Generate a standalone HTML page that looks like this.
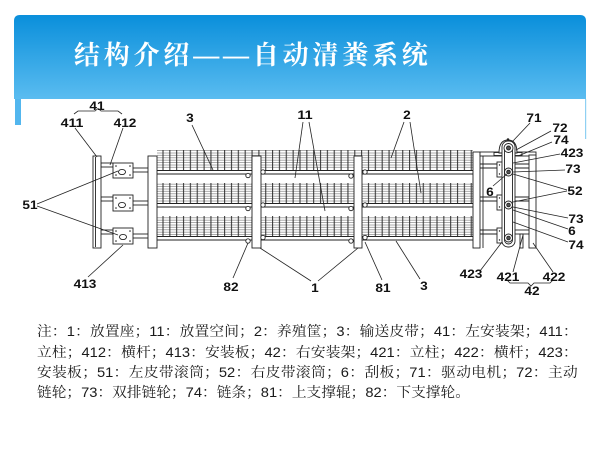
<!DOCTYPE html>
<html lang="zh-CN">
<head>
<meta charset="utf-8">
<style>
html,body{margin:0;padding:0;background:#fff;}
body{width:600px;height:450px;position:relative;overflow:hidden;}
svg{position:absolute;left:0;top:0;}
.title{position:absolute;left:74px;top:38px;font-family:"Liberation Serif","Noto Serif CJK SC",serif;font-weight:bold;font-size:26px;letter-spacing:3.8px;color:#fff;white-space:nowrap;line-height:36px;}
.ln{position:absolute;left:37px;width:515px;height:20px;line-height:20px;font-family:"Liberation Sans","Noto Serif CJK SC",serif;font-size:14px;color:#1a1a1a;transform:scaleX(1.05);transform-origin:0 0;text-align:justify;text-align-last:justify;}
.ln.last{text-align:left;text-align-last:left;}
</style>
</head>
<body>
<svg width="600" height="450" viewBox="0 0 600 450">
<defs>
<linearGradient id="hg" x1="0" y1="0" x2="0" y2="1">
<stop offset="0" stop-color="#0a8fdb"/>
<stop offset="1" stop-color="#5abcf0"/>
</linearGradient>
<pattern id="ph" patternUnits="userSpaceOnUse" x="0" y="150" width="10" height="2.4">
<line x1="0" y1="0.6" x2="10" y2="0.6" stroke="#8a8a8a" stroke-width="0.7"/>
</pattern>
<pattern id="pv" patternUnits="userSpaceOnUse" x="162.4" y="0" width="6.85" height="40">
<line x1="0.6" y1="0" x2="0.6" y2="40" stroke="#2a2a2a" stroke-width="1"/>
</pattern>
</defs>

<!-- header -->
<path d="M14 21 Q14 15 20 15 L580 15 Q586 15 586 21 L586 99 L14 99 Z" fill="url(#hg)"/>
<rect x="15" y="99" width="6" height="26" fill="#52b6ee"/>
<rect x="585" y="99" width="1.2" height="40" fill="#8fd0f3"/>

<!-- grid tiers -->
<g>
<rect x="157" y="150" width="316" height="19" fill="url(#ph)"/>
<rect x="157" y="150" width="316" height="20" fill="url(#pv)"/>
<rect x="157" y="183" width="316" height="19" fill="url(#ph)"/>
<rect x="157" y="183" width="316" height="20" fill="url(#pv)"/>
<rect x="157" y="216" width="316" height="19" fill="url(#ph)"/>
<rect x="157" y="216" width="316" height="20" fill="url(#pv)"/>
</g>
<g stroke="#222" stroke-width="1">
<line x1="157" y1="170.5" x2="473" y2="170.5"/>
<line x1="157" y1="174" x2="473" y2="174"/>
<line x1="157" y1="203.5" x2="473" y2="203.5"/>
<line x1="157" y1="207" x2="473" y2="207"/>
<line x1="157" y1="236.5" x2="473" y2="236.5"/>
<line x1="157" y1="240" x2="473" y2="240"/>
</g>

<!-- left assembly -->
<g stroke="#222" stroke-width="0.9" fill="#fff">
<rect x="101" y="163" width="12" height="4"/>
<rect x="101" y="197" width="12" height="4"/>
<rect x="101" y="230" width="12" height="4"/>
<line x1="133" y1="168" x2="148" y2="168"/>
<line x1="133" y1="172" x2="148" y2="172"/>
<line x1="133" y1="201" x2="148" y2="201"/>
<line x1="133" y1="205" x2="148" y2="205"/>
<line x1="133" y1="234" x2="148" y2="234"/>
<line x1="133" y1="238" x2="148" y2="238"/>
<rect x="93" y="156" width="8" height="92"/>
<line x1="95.5" y1="157" x2="95.5" y2="247"/>
<rect x="113" y="163" width="20" height="15"/>
<rect x="113" y="195" width="20" height="16"/>
<rect x="113" y="228" width="20" height="16"/>
<ellipse cx="122" cy="172" rx="3.5" ry="2.6"/>
<ellipse cx="122" cy="205" rx="3.5" ry="2.6"/>
<ellipse cx="123" cy="237" rx="3.5" ry="2.6"/>
<rect x="148" y="156" width="9" height="92"/>
<rect x="252" y="156" width="9" height="92"/>
<rect x="354" y="156" width="8" height="92"/>
<rect x="473" y="152" width="7" height="96"/>
</g>
<g fill="#222">
<circle cx="116" cy="166" r="0.8"/><circle cx="130" cy="166" r="0.8"/><circle cx="116" cy="175" r="0.8"/><circle cx="130" cy="175" r="0.8"/>
<circle cx="116" cy="198" r="0.8"/><circle cx="130" cy="198" r="0.8"/><circle cx="116" cy="208" r="0.8"/><circle cx="130" cy="208" r="0.8"/>
<circle cx="116" cy="231" r="0.8"/><circle cx="130" cy="231" r="0.8"/><circle cx="116" cy="241" r="0.8"/><circle cx="130" cy="241" r="0.8"/>
</g>

<!-- rollers -->
<g stroke="#222" stroke-width="0.9" fill="#fff">
<circle cx="248" cy="175.5" r="2.2"/><circle cx="263" cy="172" r="2.2"/>
<circle cx="248" cy="208.5" r="2.2"/><circle cx="263" cy="205" r="2.2"/>
<circle cx="248" cy="241" r="2.2"/><circle cx="263" cy="237.5" r="2.2"/>
<circle cx="351" cy="176" r="2.2"/><circle cx="365" cy="172" r="2.2"/>
<circle cx="351" cy="208.5" r="2.2"/><circle cx="365" cy="205" r="2.2"/>
<circle cx="351" cy="241" r="2.2"/><circle cx="365" cy="237.5" r="2.2"/>
</g>

<!-- right assembly -->
<g stroke="#222" stroke-width="0.9" fill="#fff">
<line x1="483" y1="156" x2="483" y2="248"/>
<line x1="480" y1="164" x2="529" y2="164"/>
<line x1="480" y1="168" x2="529" y2="168"/>
<line x1="480" y1="197" x2="529" y2="197"/>
<line x1="480" y1="201" x2="529" y2="201"/>
<line x1="480" y1="230" x2="513" y2="230"/>
<line x1="480" y1="234" x2="513" y2="234"/>
<rect x="480" y="152" width="56" height="4"/>
<rect x="529" y="155" width="7" height="93"/>
<rect x="513" y="230" width="16" height="4"/>
<rect x="520" y="234" width="3" height="14"/>
<rect x="497" y="162" width="16" height="15"/>
<rect x="497" y="195" width="16" height="15"/>
<rect x="497" y="228" width="16" height="15"/>
<rect x="494" y="152.5" width="28" height="3"/>
<path d="M499 153 Q499 140 508 140 Q517 140 517 153 Z"/>
<rect x="502" y="141" width="13" height="106" rx="6"/>
<rect x="504.5" y="144" width="8" height="100" rx="4"/>
<circle cx="508.5" cy="148" r="4.5"/>
<circle cx="508.5" cy="148" r="2" fill="#555"/>
<circle cx="508.5" cy="172" r="4"/>
<circle cx="508.5" cy="172" r="1.8" fill="#555"/>
<circle cx="508.5" cy="205" r="4"/>
<circle cx="508.5" cy="205" r="1.8" fill="#555"/>
<circle cx="508.5" cy="238" r="4"/>
<circle cx="508.5" cy="238" r="1.8" fill="#555"/>
</g>
<circle cx="508" cy="139.5" r="1.3" fill="#222"/>
<g fill="#222">
<circle cx="499.5" cy="165" r="0.7"/><circle cx="499.5" cy="174" r="0.7"/>
<circle cx="499.5" cy="198" r="0.7"/><circle cx="499.5" cy="207" r="0.7"/>
<circle cx="499.5" cy="231" r="0.7"/><circle cx="499.5" cy="240" r="0.7"/>
</g>

<!-- leaders -->
<g stroke="#222" stroke-width="0.8" fill="none">
<path d="M74 114 L78 111 L95 111 L98 108.5 L101 111 L118 111 L122 114"/>
<line x1="75" y1="128" x2="97" y2="157"/>
<line x1="123" y1="128" x2="110" y2="165"/>
<line x1="192" y1="125" x2="213" y2="170"/>
<line x1="37" y1="204" x2="118" y2="171"/>
<line x1="37" y1="206" x2="118" y2="235"/>
<line x1="88" y1="277" x2="123" y2="245"/>
<line x1="233" y1="278" x2="248" y2="243"/>
<line x1="311" y1="281" x2="260" y2="248"/>
<line x1="318" y1="281" x2="358" y2="248"/>
<line x1="303" y1="122" x2="295" y2="178"/>
<line x1="309" y1="122" x2="325" y2="211"/>
<line x1="404" y1="122" x2="391" y2="158"/>
<line x1="410" y1="122" x2="421" y2="193"/>
<line x1="382" y1="280" x2="365" y2="242"/>
<line x1="420" y1="279" x2="396" y2="241"/>
<line x1="530" y1="123" x2="512" y2="142"/>
<line x1="551" y1="131" x2="516" y2="150"/>
<line x1="552" y1="142" x2="518" y2="156"/>
<line x1="560" y1="154" x2="513" y2="163"/>
<line x1="565" y1="170" x2="513" y2="172"/>
<line x1="567" y1="190" x2="513" y2="174"/>
<line x1="567" y1="191" x2="513" y2="202"/>
<line x1="493" y1="186" x2="507" y2="174"/>
<line x1="568" y1="218" x2="513" y2="207"/>
<line x1="568" y1="229" x2="513" y2="210"/>
<line x1="568" y1="242" x2="513" y2="222"/>
<line x1="480" y1="271" x2="502" y2="242"/>
<line x1="513" y1="272" x2="523" y2="235"/>
<line x1="553" y1="272" x2="533" y2="243"/>
<path d="M507 280 L510 283 L528 283 L531 286 L534 283 L550 283 L553 280"/>
</g>

<!-- labels -->
<g font-family="Liberation Sans, Arial, sans-serif" font-weight="bold" font-size="11.5" fill="#111">
<text x="89.4" y="110" textLength="15.2" lengthAdjust="spacingAndGlyphs">41</text>
<text x="60.6" y="127" textLength="22.8" lengthAdjust="spacingAndGlyphs">411</text>
<text x="113.6" y="127" textLength="22.8" lengthAdjust="spacingAndGlyphs">412</text>
<text x="186.2" y="122" textLength="7.6" lengthAdjust="spacingAndGlyphs">3</text>
<text x="297.4" y="119" textLength="15.2" lengthAdjust="spacingAndGlyphs">11</text>
<text x="403.2" y="119" textLength="7.6" lengthAdjust="spacingAndGlyphs">2</text>
<text x="22.4" y="209" textLength="15.2" lengthAdjust="spacingAndGlyphs">51</text>
<text x="73.6" y="288" textLength="22.8" lengthAdjust="spacingAndGlyphs">413</text>
<text x="223.4" y="291" textLength="15.2" lengthAdjust="spacingAndGlyphs">82</text>
<text x="311.2" y="292" textLength="7.6" lengthAdjust="spacingAndGlyphs">1</text>
<text x="375.4" y="292" textLength="15.2" lengthAdjust="spacingAndGlyphs">81</text>
<text x="420.2" y="290" textLength="7.6" lengthAdjust="spacingAndGlyphs">3</text>
<text x="526.4" y="122" textLength="15.2" lengthAdjust="spacingAndGlyphs">71</text>
<text x="552.4" y="132" textLength="15.2" lengthAdjust="spacingAndGlyphs">72</text>
<text x="553.4" y="144" textLength="15.2" lengthAdjust="spacingAndGlyphs">74</text>
<text x="560.6" y="157" textLength="22.8" lengthAdjust="spacingAndGlyphs">423</text>
<text x="565.4" y="173" textLength="15.2" lengthAdjust="spacingAndGlyphs">73</text>
<text x="486.2" y="196" textLength="7.6" lengthAdjust="spacingAndGlyphs">6</text>
<text x="567.4" y="195" textLength="15.2" lengthAdjust="spacingAndGlyphs">52</text>
<text x="568.4" y="223" textLength="15.2" lengthAdjust="spacingAndGlyphs">73</text>
<text x="568.2" y="235" textLength="7.6" lengthAdjust="spacingAndGlyphs">6</text>
<text x="568.4" y="249" textLength="15.2" lengthAdjust="spacingAndGlyphs">74</text>
<text x="459.6" y="278" textLength="22.8" lengthAdjust="spacingAndGlyphs">423</text>
<text x="496.6" y="281" textLength="22.8" lengthAdjust="spacingAndGlyphs">421</text>
<text x="542.6" y="281" textLength="22.8" lengthAdjust="spacingAndGlyphs">422</text>
<text x="524.4" y="295" textLength="15.2" lengthAdjust="spacingAndGlyphs">42</text>
</g>
</svg>

<div class="title">结构介绍——自动清粪系统</div>

<div class="ln" style="top:321px;">注：1：放置座；11：放置空间；2：养殖筐；3：输送皮带；41：左安装架；411：</div>
<div class="ln" style="top:341.5px;">立柱；412：横杆；413：安装板；42：右安装架；421：立柱；422：横杆；423：</div>
<div class="ln" style="top:362px;">安装板；51：左皮带滚筒；52：右皮带滚筒；6：刮板；71：驱动电机；72：主动</div>
<div class="ln last" style="top:382px;">链轮；73：双排链轮；74：链条；81：上支撑辊；82：下支撑轮。</div>
</body>
</html>
